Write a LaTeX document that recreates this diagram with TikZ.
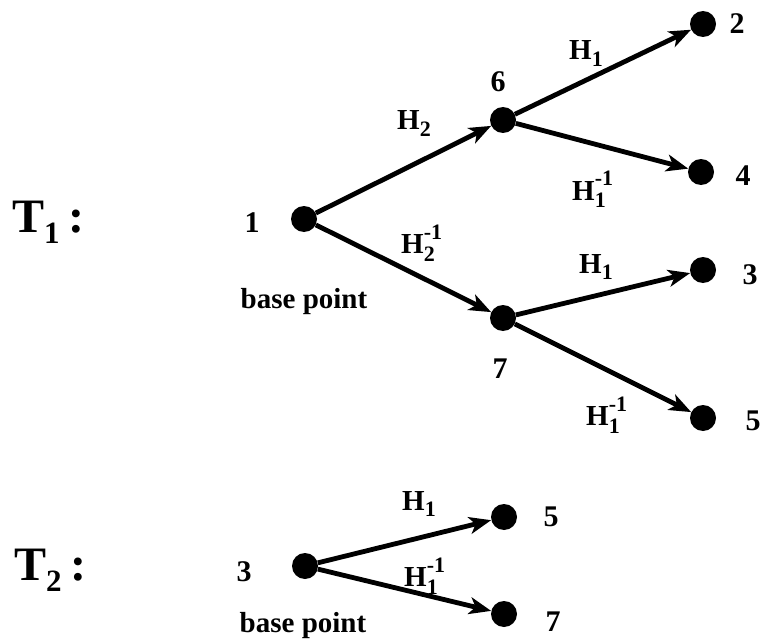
\documentclass[tikz,border=0pt]{standalone}
\usepackage{fontspec}
\setmainfont{Liberation Serif}
\usetikzlibrary{arrows.meta}
\newcommand\HL[1]{H\raisebox{-6pt}{\fontsize{22}{22}\selectfont #1}}
\newcommand\HI[1]{H\rlap{\raisebox{-8pt}{\fontsize{22}{22}\selectfont #1}}\raisebox{14pt}{\fontsize{22}{22}\selectfont -1}}
\newcommand\TL[1]{T\raisebox{-11pt}{\fontsize{31}{31}\selectfont #1}\hspace{9pt}:}
\tikzset{
  dot/.style={circle,fill=black,inner sep=0pt,minimum size=26pt},
  lbl/.style={inner sep=0pt,font=\fontsize{30}{30}\selectfont\bfseries},
  hl/.style={inner sep=0pt,anchor=base west,font=\fontsize{29}{29}\selectfont\bfseries},
  bp/.style={inner sep=0pt,anchor=base,font=\fontsize{29}{29}\selectfont\bfseries},
  tl/.style={inner sep=0pt,anchor=base west,font=\fontsize{48}{48}\selectfont\bfseries},
  edge/.style={line width=4.8pt,-{Stealth[length=22pt,width=17pt,inset=6pt]}}
}
\begin{document}
\begin{tikzpicture}[x=1pt,y=-1pt]
\useasboundingbox (0,0) rectangle (764,642);
% T1 tree
\node[dot] (n1) at (304,219) {};
\node[dot] (n6) at (503,120) {};
\node[dot] (n7) at (503,318) {};
\node[dot] (n2) at (703,24) {};
\node[dot] (n4) at (701,172) {};
\node[dot] (n3) at (703,270) {};
\node[dot] (n5) at (703,418) {};
\draw[edge] (n1) -- (n6);
\draw[edge] (n1) -- (n7);
\draw[edge] (n6) -- (n2);
\draw[edge] (n6) -- (n4);
\draw[edge] (n7) -- (n3);
\draw[edge] (n7) -- (n5);
\node[tl] (t1) at (12,232) {\TL{1}};
\node[lbl] (l1) at (252,223) {1};
\node[lbl] (l6) at (498,82) {6};
\node[lbl] (l7) at (500,369) {7};
\node[lbl] (l2) at (737,24) {2};
\node[lbl] (l4) at (743,176) {4};
\node[lbl] (l3) at (750,275) {3};
\node[lbl] (l5) at (753,421) {5};
\node[bp] (bp1) at (304,308) {base point};
\node[hl] (h2) at (397,130) {\HL{2}};
\node[hl] (h2i) at (401,253) {\HI{2}};
\node[hl] (h1a) at (569,60) {\HL{1}};
\node[hl] (h1ia) at (572,200) {\HI{1}};
\node[hl] (h1b) at (579,273) {\HL{1}};
\node[hl] (h1ib) at (586,425) {\HI{1}};
% T2 tree
\node[dot] (m3) at (305,566) {};
\node[dot] (m5) at (504,517) {};
\node[dot] (m7) at (504,614) {};
\draw[edge] (m3) -- (m5);
\draw[edge] (m3) -- (m7);
\node[tl] (t2) at (14,580) {\TL{2}};
\node[lbl] (k3) at (244,572) {3};
\node[lbl] (k5) at (551,517) {5};
\node[lbl] (k7) at (553,622) {7};
\node[bp] (bp2) at (303,632) {base point};
\node[hl] (g1) at (402,510) {\HL{1}};
\node[hl] (g1i) at (404,586) {\HI{1}};
\end{tikzpicture}
\end{document}
